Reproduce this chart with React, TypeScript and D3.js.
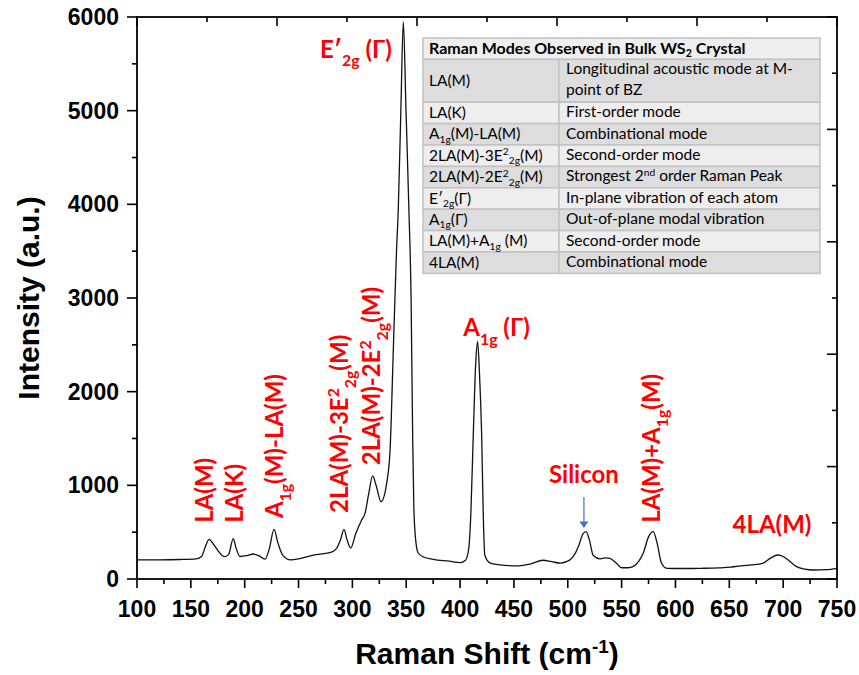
import React from 'react'
import * as d3 from 'd3'

// spectrum
const ramanShift = [100, 120, 140, 155, 160, 163, 167, 171, 176, 181, 185, 189.4, 192, 195.6, 202, 208, 213, 219, 223, 227.2, 231, 235, 242, 250, 263.7, 279, 285.4, 289, 292.2, 295, 298.4, 303, 308.6, 311.7, 315, 318.8, 322, 326.6, 331.8, 335, 338, 341, 342.6, 345, 347.3, 349.8, 352.5, 354.5, 356, 357, 358.5, 361, 366, 375, 390, 400, 405, 408, 410, 412.3, 414.5, 416.3, 418, 420, 421.5, 423, 428, 437, 455, 465, 477, 485, 493, 500, 505, 510, 514, 517, 520, 523.7, 530, 535, 539, 545, 550, 556, 561, 566, 570, 575, 579.4, 583, 587, 592, 605, 623, 640, 654, 670, 681, 688, 695, 700, 706, 712, 720, 728, 740, 750]
const intensity = [205, 205, 208, 215, 240, 330, 424, 370, 290, 238, 260, 430, 330, 240, 250, 267, 250, 212, 330, 530, 380, 260, 205, 215, 256, 281, 328, 420, 530, 420, 330, 480, 630, 700, 900, 1100, 1000, 825, 1021, 1377, 2444, 3512, 3940, 5000, 5950, 5000, 3940, 3000, 1500, 800, 450, 280, 235, 210, 190, 175, 200, 320, 700, 1555, 2300, 2533, 2200, 1555, 700, 250, 170, 150, 140, 160, 200, 185, 170, 190, 238, 350, 480, 505, 420, 250, 215, 225, 221, 170, 120, 120, 135, 190, 274, 450, 505, 380, 170, 114, 112, 114, 118, 131, 150, 167, 220, 256, 240, 190, 135, 105, 96, 100, 114]

const xTicks = [100, 150, 200, 250, 300, 350, 400, 450, 500, 550, 600, 650, 700, 750]
const yTicks = [0, 1000, 2000, 3000, 4000, 5000, 6000]

// table: mode labels (_{} sub, ^{} sup) and descriptions
const tableTitle = 'Raman Modes Observed in Bulk WS_{2} Crystal'
const modeNames = ['LA(M)', 'LA(K)', 'A_{1g}(M)-LA(M)', '2LA(M)-3E^{2}_{2g}(M)', '2LA(M)-2E^{2}_{2g}(M)', 'E′_{2g}(Γ)', 'A_{1g}(Γ)', 'LA(M)+A_{1g} (M)', '4LA(M)']
const modeDescriptions = [
  ['Longitudinal acoustic mode at M-', 'point of BZ'],
  ['First-order mode'],
  ['Combinational mode'],
  ['Second-order mode'],
  ['Strongest 2^{nd} order Raman Peak'],
  ['In-plane vibration of each atom'],
  ['Out-of-plane modal vibration'],
  ['Second-order mode'],
  ['Combinational mode'],
]

// peak annotations: [text, shift, intensity]
const verticalLabels: [string, number, number][] = [
  ['LA(M)', 170.5, 600],
  ['LA(K)', 198.5, 600],
  ['A_{1g}(M)-LA(M)', 235.5, 650],
  ['2LA(M)-3E^{2}_{2g}(M)', 296, 705],
  ['2LA(M)-2E^{2}_{2g}(M)', 325.5, 1215],
  ['LA(M)+A_{1g}(M)', 585.5, 600],
]
const flatLabels: [string, number, number, string][] = [
  ['E′_{2g} (Γ)', 270, 5560, 'start'],
  ['A_{1g} (Γ)', 403, 2590, 'start'],
  ['Silicon', 515, 1025, 'middle'],
  ['4LA(M)', 653, 490, 'start'],
]

const parseRich = (s: string) => {
  const out: { t: string; k: string }[] = []
  const re = /([_^])\{([^}]*)\}/g
  let last = 0
  let m
  while ((m = re.exec(s))) {
    if (m.index > last) out.push({ t: s.slice(last, m.index), k: 'n' })
    out.push({ t: m[2], k: m[1] === '_' ? 'sub' : 'sup' })
    last = m.index + m[0].length
  }
  if (last < s.length) out.push({ t: s.slice(last), k: 'n' })
  return out
}

const Rich = ({ s, size, sub = 0.34 }: { s: string; size: number; sub?: number }) => {
  let cur = 0
  return (
    <>
      {parseRich(s).map((seg, i) => {
        const want = seg.k === 'sub' ? size * sub : seg.k === 'sup' ? -size * 0.36 : 0
        const dy = want - cur
        cur = want
        return (
          <tspan key={i} dy={dy} fontSize={seg.k === 'n' ? size : size * 0.66}>{seg.t}</tspan>
        )
      })}
    </>
  )
}

const App = () => {
  const width = 859
  const height = 675
  const left = 137, right = 837, top = 17, bottom = 579

  const x = d3.scaleLinear().domain([100, 750]).range([left, right])
  const y = d3.scaleLinear().domain([0, 6000]).range([bottom, top])
  // top / right frame axes have their own 5 divisions
  const xTop = d3.scaleLinear().domain([0, 5]).range([left, right])
  const yRight = d3.scaleLinear().domain([0, 5]).range([bottom, top])

  const pts = ramanShift.map((v, i) => [v, intensity[i]] as [number, number])
  const line = d3.line<[number, number]>().x(d => x(d[0])).y(d => y(d[1])).curve(d3.curveMonotoneX)

  const minorX = d3.range(125, 750, 50)
  const minorY = d3.range(500, 6000, 1000)
  const halfSteps = d3.range(0.5, 5, 1)

  const red = '#ff0000'
  const labFont = 'Lato, "Open Sans", sans-serif'
  const axFont = '"Liberation Sans", Arial, sans-serif'
  const lblSize = 24

  // table layout
  const tx0 = 423, tx1 = 559, tx2 = 820, ty0 = 38, unit = 21.4
  const rowSpans = [1, 2, 1, 1, 1, 1, 1, 1, 1, 1]
  const rowTops = rowSpans.reduce((acc: number[], s, i) => { acc.push(i === 0 ? ty0 : acc[i - 1] + rowSpans[i - 1] * unit); return acc }, [])
  const tSize = 15.5

  return (
    <svg width={width} height={height} style={{ position: 'absolute', left: 0, top: 0, background: '#fff' }}>
      <rect width={width} height={height} fill="#fff" />

      {/* table */}
      <g fontFamily={labFont} fill="#000">
        {rowTops.map((t, i) => (
          <g key={i}>
            {i === 0 ? (
              <rect x={tx0} y={t} width={tx2 - tx0} height={unit} fill="#eeeeee" stroke="#c2c2c2" strokeWidth={1.5} />
            ) : (
              <>
                <rect x={tx0} y={t} width={tx1 - tx0} height={rowSpans[i] * unit} fill={i % 2 ? '#dddddd' : '#eeeeee'} stroke="#c2c2c2" strokeWidth={1.5} />
                <rect x={tx1} y={t} width={tx2 - tx1} height={rowSpans[i] * unit} fill={i % 2 ? '#dddddd' : '#eeeeee'} stroke="#c2c2c2" strokeWidth={1.5} />
              </>
            )}
          </g>
        ))}
        <text x={tx0 + 6} y={rowTops[0] + 15.5} fontSize={tSize + 0.5} fontWeight="bold"><Rich s={tableTitle} size={tSize + 0.5} sub={0.22} /></text>
        {modeNames.map((m, i) => (
          <text key={m + i} x={tx0 + 6} y={rowTops[i + 1] + rowSpans[i + 1] * unit / 2 + 5} fontSize={tSize}><Rich s={m} size={tSize} sub={0.22} /></text>
        ))}
        {modeDescriptions.map((d, i) => d.map((ln, j) => (
          <text key={i + '-' + j} x={tx1 + 7} y={rowTops[i + 1] + 15 + j * (unit - 0.5)} fontSize={tSize}><Rich s={ln} size={tSize} /></text>
        )))}
      </g>

      {/* spectrum */}
      <path d={line(pts) || ''} fill="none" stroke="#111" strokeWidth={1.3} />

      {/* frame */}
      <rect x={left} y={top} width={right - left} height={bottom - top} fill="none" stroke="#000" strokeWidth={1.8} />

      {/* ticks on all four sides */}
      <g stroke="#000" strokeWidth={1.6}>
        {xTicks.map(t => <line key={t} x1={x(t)} x2={x(t)} y1={bottom} y2={bottom + 9} />)}
        {minorX.map(t => <line key={t} x1={x(t)} x2={x(t)} y1={bottom} y2={bottom + 5} />)}
        {yTicks.map(t => <line key={t} x1={left} x2={left - 10} y1={y(t)} y2={y(t)} />)}
        {minorY.map(t => <line key={t} x1={left} x2={left - 5} y1={y(t)} y2={y(t)} />)}
        {d3.range(0, 6).map(t => <line key={'t' + t} x1={xTop(t)} x2={xTop(t)} y1={top} y2={top + 9} />)}
        {halfSteps.map(t => <line key={'th' + t} x1={xTop(t)} x2={xTop(t)} y1={top} y2={top + 5} />)}
        {d3.range(0, 6).map(t => <line key={'r' + t} x1={right} x2={right - 10} y1={yRight(t)} y2={yRight(t)} />)}
        {halfSteps.map(t => <line key={'rh' + t} x1={right} x2={right - 5} y1={yRight(t)} y2={yRight(t)} />)}
      </g>
      <g fontFamily={axFont} fontWeight="bold" fontSize={23} fill="#000">
        {xTicks.map(t => <text key={t} x={x(t)} y={617} textAnchor="middle">{t}</text>)}
        {yTicks.map(t => <text key={t} x={left - 18} y={y(t) + 8} textAnchor="end">{t}</text>)}
      </g>
      <text x={(left + right) / 2} y={664} textAnchor="middle" fontFamily={axFont} fontWeight="bold" fontSize={30}>
        Raman Shift (cm<tspan dy={-11} fontSize={19}>-1</tspan><tspan dy={11}>)</tspan>
      </text>
      <text transform={`translate(39,${(top + bottom) / 2}) rotate(-90)`} textAnchor="middle" fontFamily={axFont} fontWeight="bold" fontSize={30}>
        Intensity (a.u.)
      </text>

      {/* annotations */}
      <g fontFamily={labFont} fontWeight="bold" fill={red}>
        {verticalLabels.map(([s, vx, vy]) => (
          <text key={s + vx} transform={`translate(${x(vx)},${y(vy)}) rotate(-90)`} fontSize={lblSize}><Rich s={s} size={lblSize} /></text>
        ))}
        {flatLabels.map(([s, vx, vy, anchor]) => (
          <text key={s} x={x(vx)} y={y(vy)} textAnchor={anchor} fontSize={lblSize}><Rich s={s} size={lblSize} /></text>
        ))}
      </g>
      <g stroke="#4472c4" fill="#4472c4">
        <line x1={x(515)} x2={x(515)} y1={y(875)} y2={y(600)} strokeWidth={1.2} />
        <path d={`M${x(515) - 4.5},${y(615)} L${x(515) + 4.5},${y(615)} L${x(515)},${y(545)} Z`} stroke="none" />
      </g>
    </svg>
  )
}

export default App
